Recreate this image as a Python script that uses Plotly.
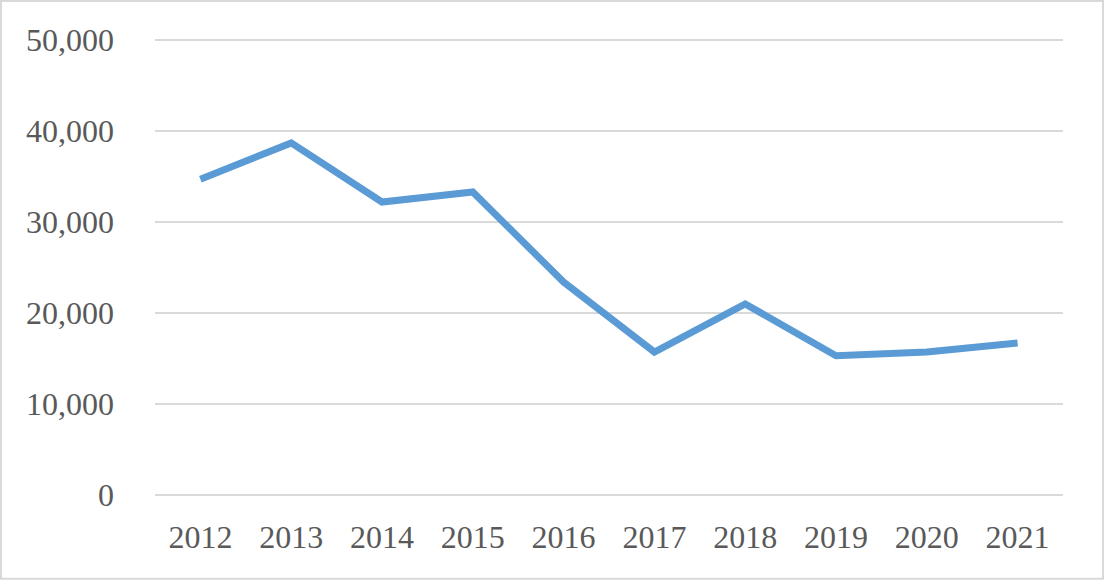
import plotly.graph_objects as go

years = ["2012", "2013", "2014", "2015", "2016", "2017", "2018", "2019", "2020", "2021"]
values = [34700, 38700, 32200, 33300, 23400, 15700, 21000, 15300, 15700, 16700]
y_ticks = [0, 10000, 20000, 30000, 40000, 50000]
y_tick_labels = ["0", "10,000", "20,000", "30,000", "40,000", "50,000"]

FONT = dict(family="Liberation Serif, DejaVu Serif, serif", size=32, color="#595959")

fig = go.Figure(go.Scatter(
    x=years, y=values, mode="lines",
    line=dict(color="#5B9BD5", width=7, shape="linear"),
    hoverinfo="x+y",
))

# pad the y range so the 0 and 50,000 gridlines are drawn
pad = 1000
plot_h = 455 * (50000 + 2 * pad) / 50000
pad_px = (plot_h - 455) / 2

fig.update_layout(
    width=1104, height=580,
    paper_bgcolor="white", plot_bgcolor="white",
    margin=dict(l=155, r=41, t=40 - pad_px, b=85 - pad_px),
    font=FONT,
    showlegend=False,
    xaxis=dict(
        type="category", range=[-0.5, 9.5], automargin=False,
        showgrid=False, showline=False, zeroline=False,
        ticks="", tickfont=FONT, ticklabelstandoff=int(round(2 + pad_px)),
    ),
    yaxis=dict(
        range=[-pad, 50000 + pad], tickvals=y_ticks, ticktext=y_tick_labels,
        automargin=False,
        showgrid=True, gridcolor="#D9D9D9", gridwidth=1.5,
        zeroline=False, showline=False, ticks="", tickfont=FONT,
        ticklabelstandoff=40,
    ),
    shapes=[dict(
        type="rect", xref="paper", yref="paper",
        x0=-154 / 908, x1=1 + 40 / 908,
        y0=-(84 - pad_px) / plot_h, y1=1 + (39 - pad_px) / plot_h,
        line=dict(color="#D9D9D9", width=2),
    )],
)

fig.write_html(
    "out.html",
    config={"displayModeBar": False},
    post_script="document.body.style.margin='0';",
)
